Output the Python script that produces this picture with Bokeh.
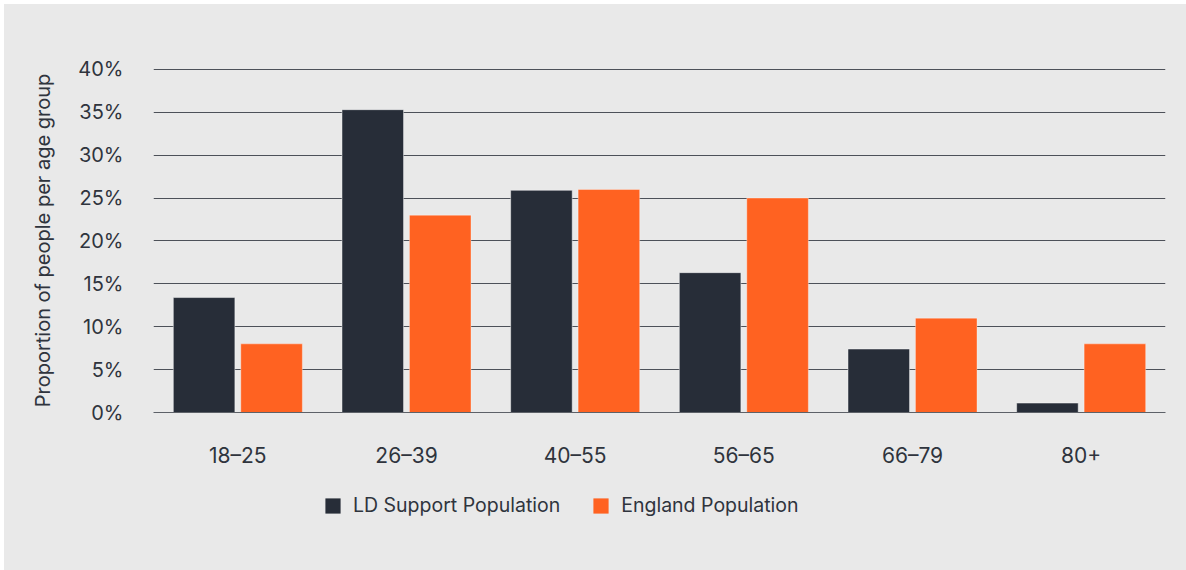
from bokeh.plotting import figure
from bokeh.layouts import column
from bokeh.models import ColumnDataSource, FactorRange, Range1d, Legend, LegendItem, PrintfTickFormatter, FixedTicker
from bokeh.transform import dodge
from bokeh.embed import file_html
from bokeh.resources import INLINE

categories = ["18\u201325", "26\u201339", "40\u201355", "56\u201365", "66\u201379", "80+"]
ld_support = [13.4, 35.3, 25.9, 16.3, 7.4, 1.1]
england = [8.0, 23.0, 26.0, 25.0, 11.0, 8.0]
y_ticks = [0, 5, 10, 15, 20, 25, 30, 35, 40]
series_names = ["LD Support Population", "England Population"]

BG = "#e9e9e9"
DARK = "#272d38"
ORANGE = "#ff6221"
TEXT = "#2f343d"
FONT = "Inter"

src = ColumnDataSource(dict(cat=categories, ld=ld_support, eng=england))

p = figure(width=1182, height=466, x_range=FactorRange(*categories, range_padding=0),
           y_range=Range1d(0, 40.1), output_backend="svg", toolbar_location=None,
           min_border_left=149, min_border_right=21, min_border_top=64, min_border_bottom=58)
p.background_fill_color = BG
p.border_fill_color = BG
p.outline_line_color = None

p.vbar(x=dodge("cat", -0.2, range=p.x_range), top="ld", width=0.365, source=src,
       fill_color=DARK, line_color="white", line_alpha=0.45, line_width=1)
p.vbar(x=dodge("cat", 0.2, range=p.x_range), top="eng", width=0.365, source=src,
       fill_color=ORANGE, line_color="white", line_alpha=0.35, line_width=1)

p.xgrid.grid_line_color = None
p.ygrid.grid_line_color = "#4d5159"
p.ygrid.grid_line_width = 1
p.ygrid.ticker = FixedTicker(ticks=y_ticks)
p.yaxis.ticker = FixedTicker(ticks=y_ticks)
p.yaxis.formatter = PrintfTickFormatter(format="%d%%")

for ax in (p.xaxis[0], p.yaxis[0]):
    ax.axis_line_color = None
    ax.major_tick_line_color = None
    ax.minor_tick_line_color = None
    ax.major_label_text_font = FONT
    ax.major_label_text_color = TEXT

p.xaxis.axis_line_color = "#5d6168"
p.xaxis.axis_line_width = 1
p.xaxis.major_label_text_font_size = "21px"
p.yaxis.major_label_text_font_size = "20px"
p.xaxis.major_label_standoff = 24
p.yaxis.major_label_standoff = 24
p.yaxis.axis_label = "Proportion of people per age group"
p.yaxis.axis_label_text_font = FONT
p.yaxis.axis_label_text_font_style = "normal"
p.yaxis.axis_label_text_font_size = "20px"
p.yaxis.axis_label_text_color = TEXT
p.yaxis.axis_label_standoff = 20

# legend strip below the chart (same frame geometry as the chart)
lg = figure(width=1182, height=100, x_range=FactorRange(*categories, range_padding=0),
            y_range=Range1d(0, 40.1), output_backend="svg", toolbar_location=None,
            x_axis_location=None, y_axis_location=None,
            min_border_left=149, min_border_right=21, min_border_top=0, min_border_bottom=0)
lg.background_fill_color = BG
lg.border_fill_color = BG
lg.outline_line_color = None
lg.grid.grid_line_color = None
d1 = lg.vbar(x="cat", top="ld", width=0.365, source=src, fill_color=DARK, line_color=None, visible=False)
d2 = lg.vbar(x="cat", top="eng", width=0.365, source=src, fill_color=ORANGE, line_color=None, visible=False)

legend = Legend(items=[LegendItem(label=series_names[0], renderers=[d1], index=0),
                       LegendItem(label=series_names[1], renderers=[d2], index=0)],
                location=(170, 53), orientation="horizontal")
legend.label_text_font = FONT
legend.label_text_font_size = "19.5px"
legend.label_text_color = TEXT
legend.glyph_width = 19
legend.glyph_height = 19
legend.label_standoff = 11
legend.spacing = 31
legend.padding = 0
legend.margin = 0
legend.border_line_color = None
legend.background_fill_alpha = 0
legend.inactive_fill_alpha = 0
lg.add_layout(legend, "center")

layout = column(p, lg, spacing=0, margin=(4, 0, 0, 4), styles={"background-color": BG})
open("out.html", "w").write(file_html(layout, INLINE))
